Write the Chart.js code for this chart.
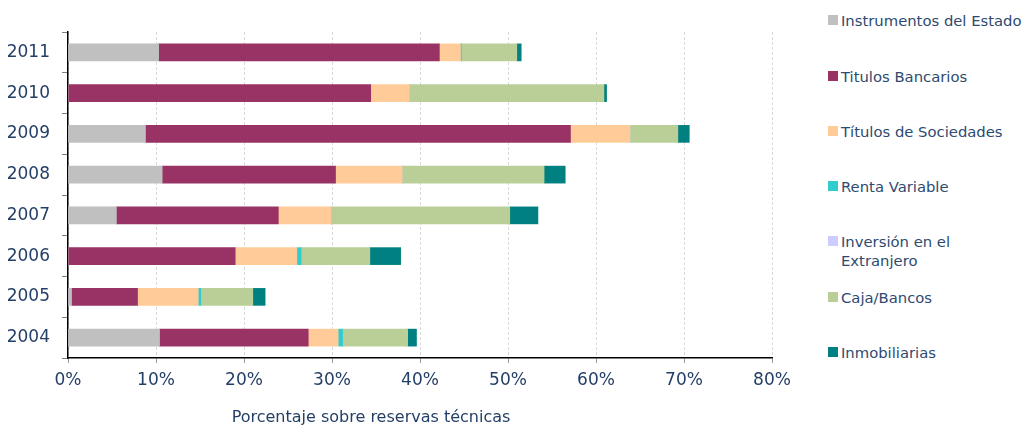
<!DOCTYPE html>
<html>
<head>
<meta charset="utf-8">
<script src="https://cdn.jsdelivr.net/npm/chart.js@4"></script>
<style>
  body { margin: 0; background: #fff; width: 1026px; height: 428px; overflow: hidden; position: relative; }
  #wrap { position: absolute; left: 0; top: 0; width: 800px; height: 428px; }
  #legend { position: absolute; left: 828px; top: 0; font-family: "DejaVu Sans", Verdana, sans-serif; font-size: 14.8px; color: #2e4a70; }
  .item { position: absolute; left: 0; white-space: nowrap; line-height: 19px; }
  .box { position: absolute; left: 0; top: 4px; width: 10px; height: 10px; }
  .txt { position: absolute; left: 13px; top: 0; }
  #xtitle { position: absolute; left: 171px; width: 400px; top: 407px; text-align: center;
            font-family: "DejaVu Sans", Verdana, sans-serif; font-size: 16px; color: #243f66; }
</style>
</head>
<body>
<div id="wrap"><canvas id="chart" width="800" height="428"></canvas></div>
<div id="legend"></div>
<div id="xtitle">Porcentaje sobre reservas técnicas</div>
<script>
const years = ['2011', '2010', '2009', '2008', '2007', '2006', '2005', '2004'];
const xTicks = [0, 10, 20, 30, 40, 50, 60, 70, 80];

const estado      = [10.3,  0.0,  8.8, 10.7,  5.5,  0.0, 0.4, 10.4];
const bancarios   = [31.9, 34.4, 48.3, 19.7, 18.4, 19.0, 7.5, 16.9];
const sociedades  = [ 2.4,  4.4,  6.8,  7.6,  6.0,  7.0, 6.9,  3.4];
const renta       = [ 0.1,  0.0,  0.0,  0.0,  0.0,  0.5, 0.3,  0.5];
const extranjero  = [ 0.0,  0.0,  0.0,  0.0,  0.0,  0.0, 0.0,  0.0];
const caja        = [ 6.3, 22.1,  5.4, 16.1, 20.3,  7.8, 5.9,  7.4];
const inmob       = [ 0.5,  0.3,  1.3,  2.4,  3.2,  3.5, 1.4,  1.0];

const series = [
  { label: 'Instrumentos del Estado', data: estado, color: '#c0c0c0' },
  { label: 'Titulos Bancarios', data: bancarios, color: '#993366' },
  { label: 'Títulos de Sociedades', data: sociedades, color: '#ffcc99' },
  { label: 'Renta Variable', data: renta, color: '#33cccc' },
  { label: ['Inversión en el', 'Extranjero'], data: extranjero, color: '#ccccff' },
  { label: 'Caja/Bancos', data: caja, color: '#bacf98' },
  { label: 'Inmobiliarias', data: inmob, color: '#008080' }
];

const textColor = '#243f66';

// leyenda a la derecha
const legendTops = [11, 67, 122, 177, 232, 288, 343];
const legend = document.getElementById('legend');
series.forEach((s, i) => {
  const div = document.createElement('div');
  div.className = 'item';
  div.style.top = legendTops[i] + 'px';
  const lines = Array.isArray(s.label) ? s.label.join('<br>') : s.label;
  div.innerHTML = `<span class="box" style="background:${s.color}"></span><span class="txt">${lines}</span>`;
  legend.appendChild(div);
});

new Chart(document.getElementById('chart'), {
  type: 'bar',
  data: {
    labels: years,
    datasets: series.map(s => ({
      label: Array.isArray(s.label) ? s.label.join(' ') : s.label,
      data: s.data,
      backgroundColor: s.color,
      borderWidth: 0,
      barThickness: 17
    }))
  },
  options: {
    indexAxis: 'y',
    responsive: false,
    animation: false,
    layout: { padding: { top: 32, right: 28, left: 0, bottom: 0 } },
    plugins: {
      legend: { display: false },
      tooltip: { enabled: false }
    },
    scales: {
      x: {
        stacked: true,
        min: 0,
        max: 80,
        afterBuildTicks: axis => { axis.ticks = xTicks.map(v => ({ value: v })); },
        afterFit: axis => { axis.height = 70; },
        ticks: {
          color: textColor,
          padding: 7,
          font: { family: '"DejaVu Sans", Verdana, sans-serif', size: 17 },
          callback: v => v + '%'
        },
        grid: { color: '#d9d9d9', tickColor: '#999', tickLength: 5, tickBorderDash: [] },
        border: { color: '#000', width: 1.5, dash: [3, 2] }
      },
      y: {
        stacked: true,
        afterFit: axis => { axis.width = 68; },
        ticks: {
          color: textColor,
          padding: 12,
          font: { family: '"DejaVu Sans", Verdana, sans-serif', size: 17 }
        },
        grid: { offset: true, drawOnChartArea: false, color: '#808080', tickLength: 6 },
        border: { color: '#000', width: 1.5 }
      }
    }
  }
});
</script>
</body>
</html>
